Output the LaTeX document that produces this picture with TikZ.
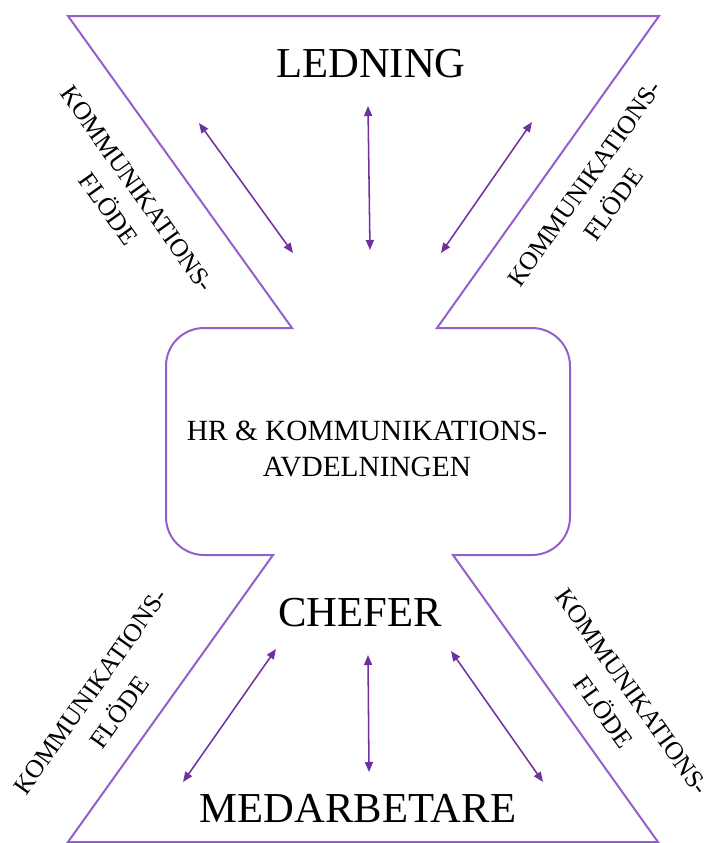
\documentclass[tikz,border=0pt]{standalone}
\usepackage{fontspec}
\setmainfont{Liberation Serif}
\usepackage{tikz}
\usetikzlibrary{arrows.meta, positioning}
\definecolor{hrline}{RGB}{146,96,204}
\definecolor{hrarrow}{RGB}{112,48,160}
\tikzset{
  outline/.style={draw=hrline, line width=1.5pt, line join=miter},
  flowarrow/.style={{Triangle[length=7.5pt,width=6pt]}-{Triangle[length=7.5pt,width=6pt]},
    line width=1.15pt, color=hrarrow},
  levelnode/.style={inner sep=0pt, font=\fontsize{32pt}{36pt}\selectfont, text=black},
  deptnode/.style={inner sep=0pt, align=center,
    font=\fontsize{22pt}{27pt}\selectfont, text=black},
  flowlabel/.style={inner sep=0pt, align=center,
    font=\fontsize{19.2pt}{26.5pt}\selectfont, text=black, rotate=#1},
}

\begin{document}
\begin{tikzpicture}[x=0.75pt, y=0.75pt]
    \useasboundingbox (0,0) rectangle (710,-843);

    \draw[outline] (68,-16) -- (659,-16) -- (437,-328) -- (532,-328)
      arc[start angle=90, end angle=0, radius=28.5pt] -- (570,-517)
      arc[start angle=0, end angle=-90, radius=28.5pt] -- (453,-555)
      -- (658,-842) -- (68,-842) -- (273,-555) -- (204,-555)
      arc[start angle=270, end angle=180, radius=28.5pt] -- (166,-366)
      arc[start angle=180, end angle=90, radius=28.5pt] -- (292,-328) -- cycle;

    \node[levelnode] (ledning) at (371,-64){LEDNING};
    \node[levelnode] (chefer)  at (360,-613){CHEFER};
    \node[levelnode] (medarb)  at (358,-808){MEDARBETARE};
    \node[deptnode]  (hr)      at (367,-449){HR \& KOMMUNIKATIONS-\\AVDELNINGEN};

    \node[flowlabel=-54.6] (flowtl) at (123,-199){KOMMUNIKATIONS-\\FLÖDE};
    \node[flowlabel=54.6]  (flowtr) at (599,-194){KOMMUNIKATIONS-\\FLÖDE};
    \node[flowlabel=54.6]  (flowbl) at (105,-702){KOMMUNIKATIONS-\\FLÖDE};
    \node[flowlabel=-54.6] (flowbr) at (618,-702){KOMMUNIKATIONS-\\FLÖDE};

    \coordinate (tla) at (199,-123);  \coordinate (tlb) at (293,-253);
    \coordinate (tma) at (368,-106);  \coordinate (tmb) at (370,-250);
    \coordinate (tra) at (532,-122);  \coordinate (trb) at (441,-253);
    \coordinate (bla) at (276,-649);  \coordinate (blb) at (183,-782);
    \coordinate (bma) at (368,-655);  \coordinate (bmb) at (369,-772);
    \coordinate (bra) at (451,-651);  \coordinate (brb) at (543,-782);

    \draw[flowarrow] (tla) -- (tlb);
    \draw[flowarrow] (tma) -- (tmb);
    \draw[flowarrow] (tra) -- (trb);
    \draw[flowarrow] (bla) -- (blb);
    \draw[flowarrow] (bma) -- (bmb);
    \draw[flowarrow] (bra) -- (brb);
  \end{tikzpicture}
\end{document}
